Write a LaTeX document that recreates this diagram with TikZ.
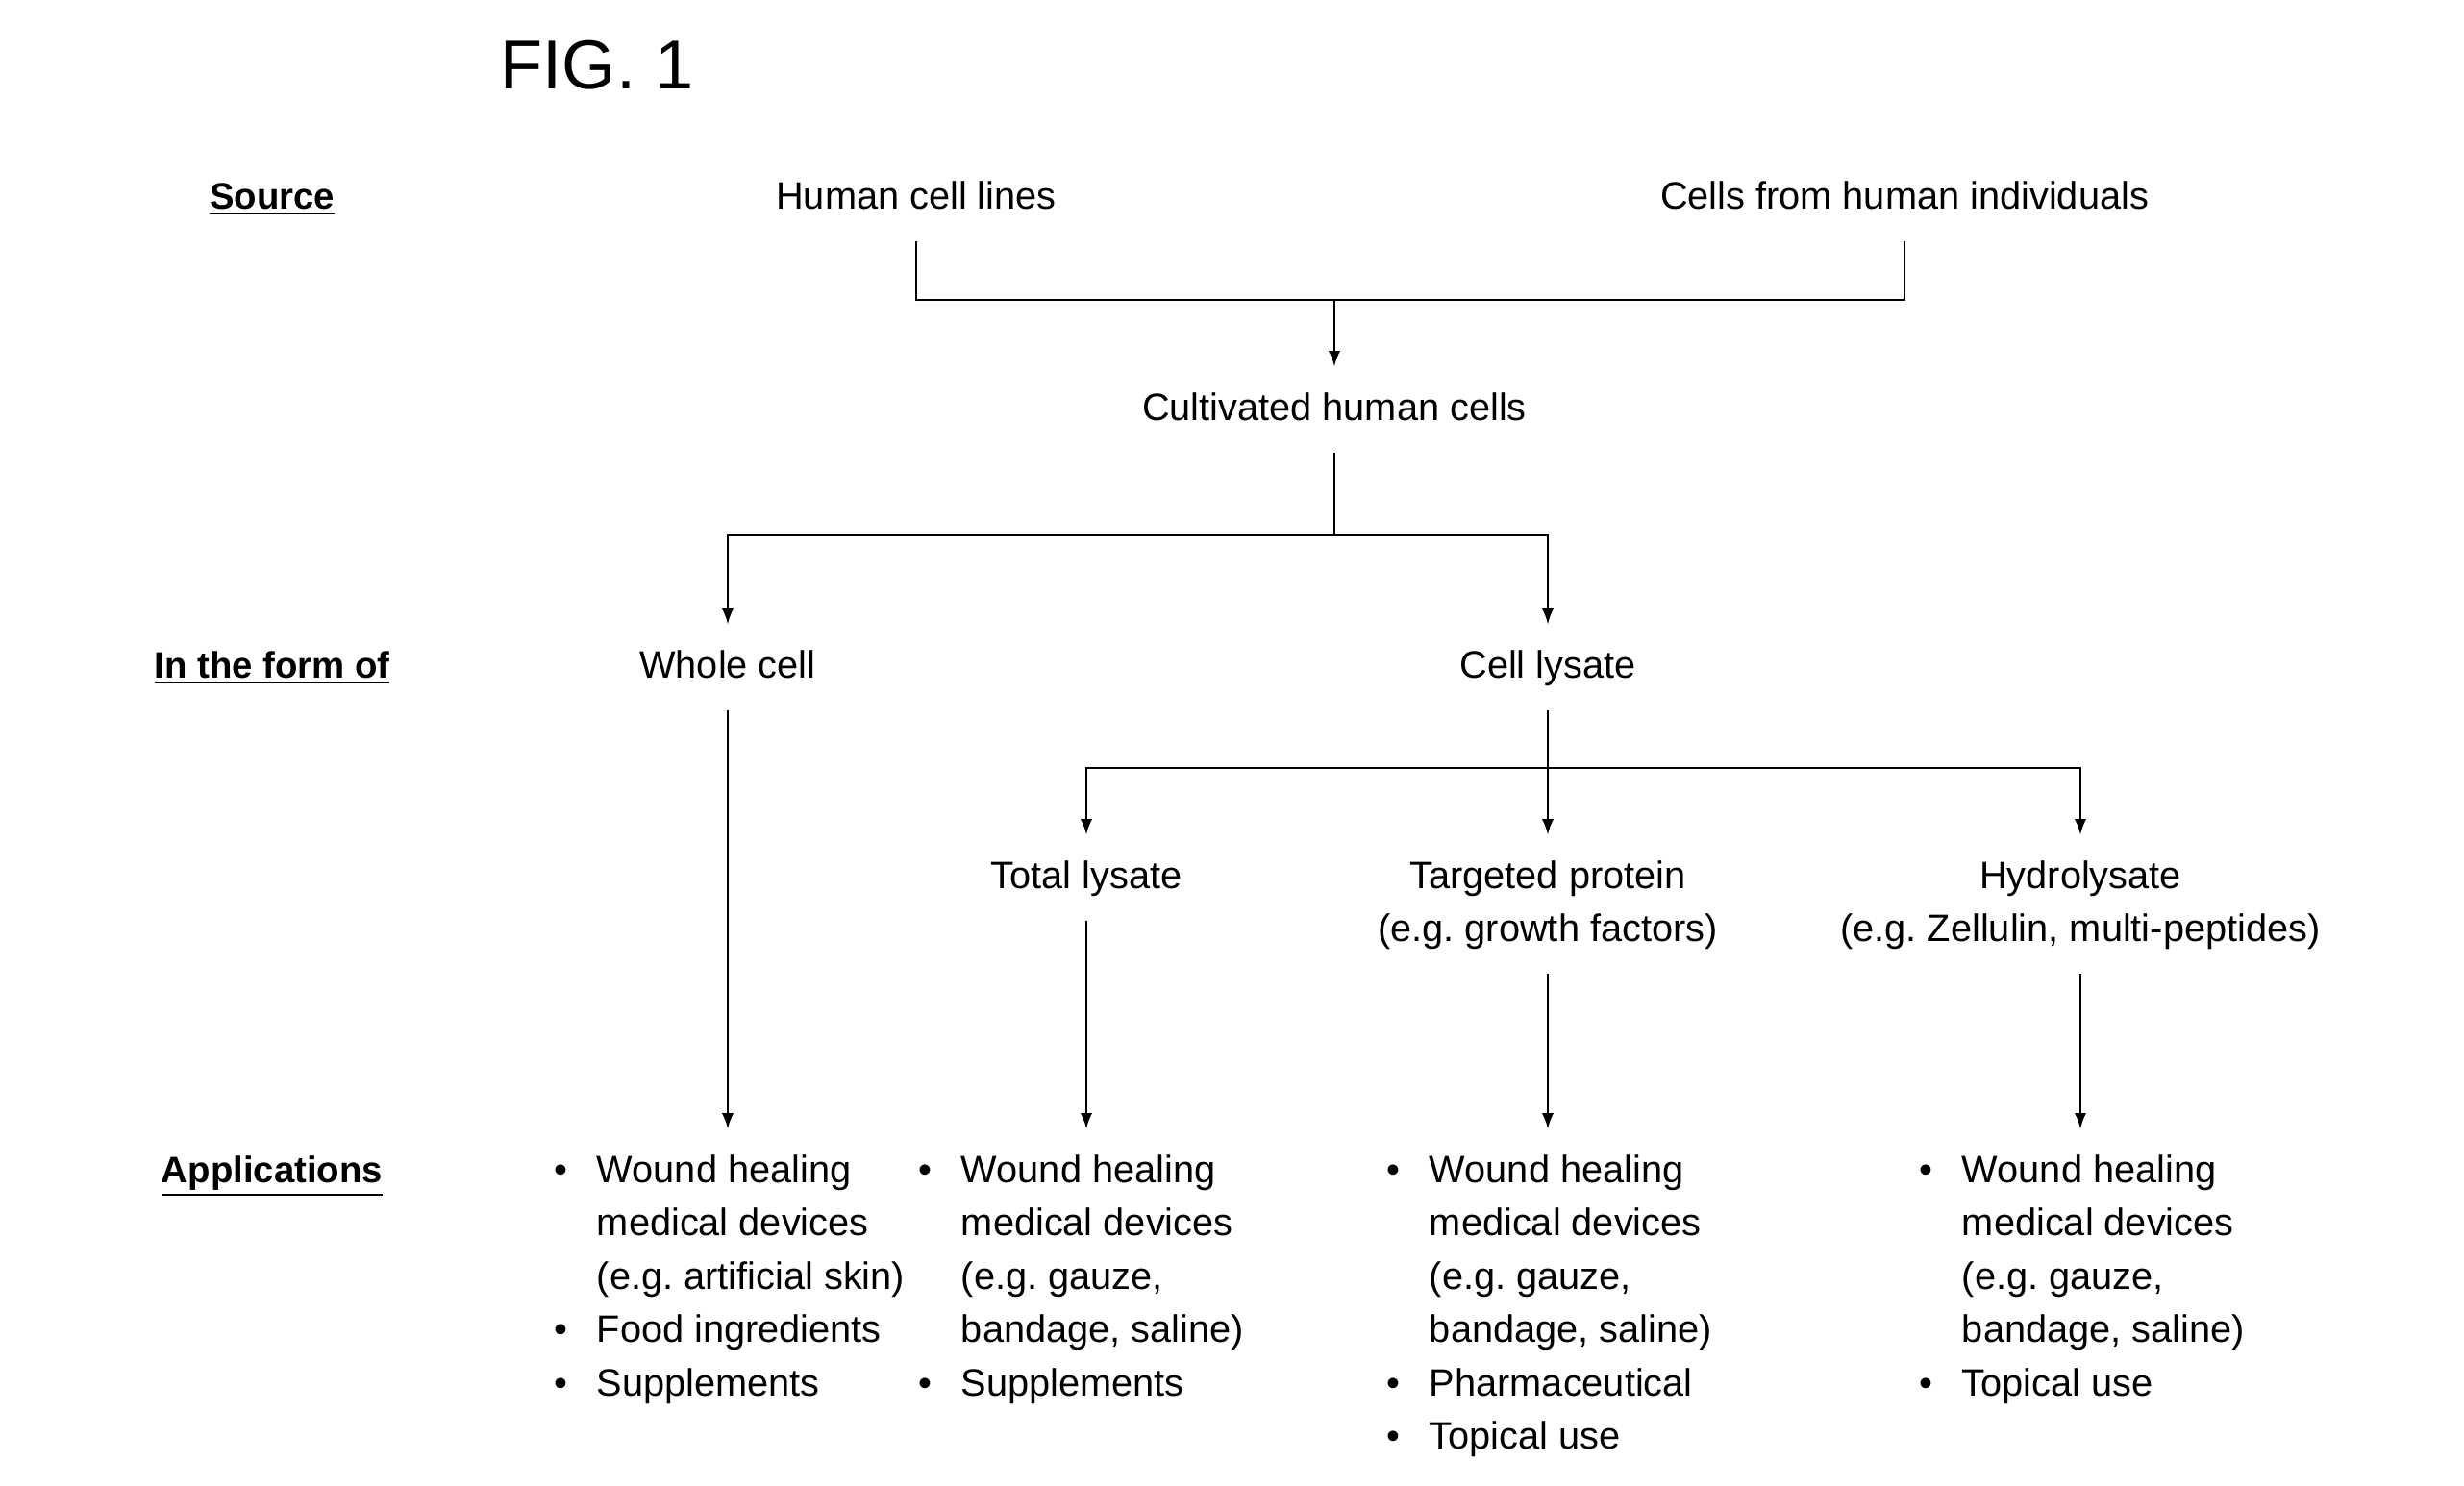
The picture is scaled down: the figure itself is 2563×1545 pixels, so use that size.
\documentclass[tikz,border=0pt]{standalone}
\usepackage{fontspec}
\setmainfont{Liberation Sans}
\usetikzlibrary{arrows}
\frenchspacing
\tikzset{label-text/.style =
   {inner xsep=0pt,
    inner ysep=4.5pt,
    anchor=base,
    font=\fontsize{11.3}{15.8}\selectfont}}
\tikzset{heading/.style =
   {inner sep=0pt,
    anchor=base,
    font=\fontsize{10.9}{15.8}\selectfont\bfseries}}
\tikzset{app-list/.style =
   {inner xsep=0pt,
    inner ysep=4.5pt,
    anchor=base west,
    font=\fontsize{11.3}{15.8}\selectfont}}
\tikzset{arrow/.style = {draw, -latex}}
\newcommand{\labeltext}[1]{\begin{tabular}[t]{@{}c@{}}#1\end{tabular}}
\newcommand{\appitems}[1]{\begin{tabular}[t]{@{}l@{\hspace{8.8pt}}l@{}}#1\end{tabular}}

\begin{document}
\begin{tikzpicture}[x=0.01cm, y=-0.01cm, line width=0.6pt]

    \useasboundingbox (0,0) rectangle (2563,1545);

    \node [label-text,
           inner sep=0pt,
           font=\fontsize{20.5}{24}\selectfont] (fig) at (621,92) {FIG. 1};

    \node [heading] (source) at (283,217) {\underline{Source}};
    \node [heading] (form) at (283,705) {\underline{In the form of}};
    \node [heading] (applications) at (283,1230) {\underline{Applications}};

    \node [label-text] (cell-lines) at (953,217) {\labeltext{Human cell lines}};
    \node [label-text] (individuals) at (1981,217) {\labeltext{Cells from human individuals}};
    \coordinate (source-bar) at (1388,312);

    \node [label-text] (cultivated) at (1388,437) {\labeltext{Cultivated human cells}};
    \coordinate (form-bar) at (1388,557);

    \node [label-text] (whole) at (757,705) {\labeltext{Whole cell}};
    \node [label-text] (lysate) at (1610,705) {\labeltext{Cell lysate}};
    \coordinate (lysate-bar) at (1610,799);

    \node [label-text] (total) at (1130,924) {\labeltext{Total lysate}};
    \node [label-text] (targeted) at (1610,924)
    {\labeltext{Targeted protein\\(e.g. growth factors)}};
    \node [label-text] (hydrolysate) at (2164,924)
    {\labeltext{Hydrolysate\\(e.g. Zellulin, multi-peptides)}};

    \node [app-list] (app-whole) at (575,1230)
    {\appitems{\textbullet & Wound healing\\
                           & medical devices\\
                           & (e.g. artificial skin)\\
               \textbullet & Food ingredients\\
               \textbullet & Supplements}};
    \node [app-list] (app-total) at (954,1230)
    {\appitems{\textbullet & Wound healing\\
                           & medical devices\\
                           & (e.g. gauze,\\
                           & bandage, saline)\\
               \textbullet & Supplements}};
    \node [app-list] (app-targeted) at (1441,1230)
    {\appitems{\textbullet & Wound healing\\
                           & medical devices\\
                           & (e.g. gauze,\\
                           & bandage, saline)\\
               \textbullet & Pharmaceutical\\
               \textbullet & Topical use}};
    \node [app-list] (app-hydrolysate) at (1995,1230)
    {\appitems{\textbullet & Wound healing\\
                           & medical devices\\
                           & (e.g. gauze,\\
                           & bandage, saline)\\
               \textbullet & Topical use}};

    \draw (cell-lines.south) |- (source-bar) -| (individuals.south);
    \draw [arrow] (source-bar) -- (cultivated.north);
    \draw (cultivated.south) -- (form-bar);
    \draw [arrow] (form-bar) -| (whole.north);
    \draw [arrow] (form-bar) -| (lysate.north);
    \draw [arrow] (lysate.south) -- (targeted.north);
    \draw [arrow] (lysate-bar) -| (total.north);
    \draw [arrow] (lysate-bar) -| (hydrolysate.north);

    \draw [arrow] (whole.south) -- (whole.south |- app-whole.north);
    \draw [arrow] (total.south) -- (total.south |- app-total.north);
    \draw [arrow] (targeted.south) -- (targeted.south |- app-targeted.north);
    \draw [arrow] (hydrolysate.south) -- (hydrolysate.south |- app-hydrolysate.north);

\end{tikzpicture}
\end{document}
